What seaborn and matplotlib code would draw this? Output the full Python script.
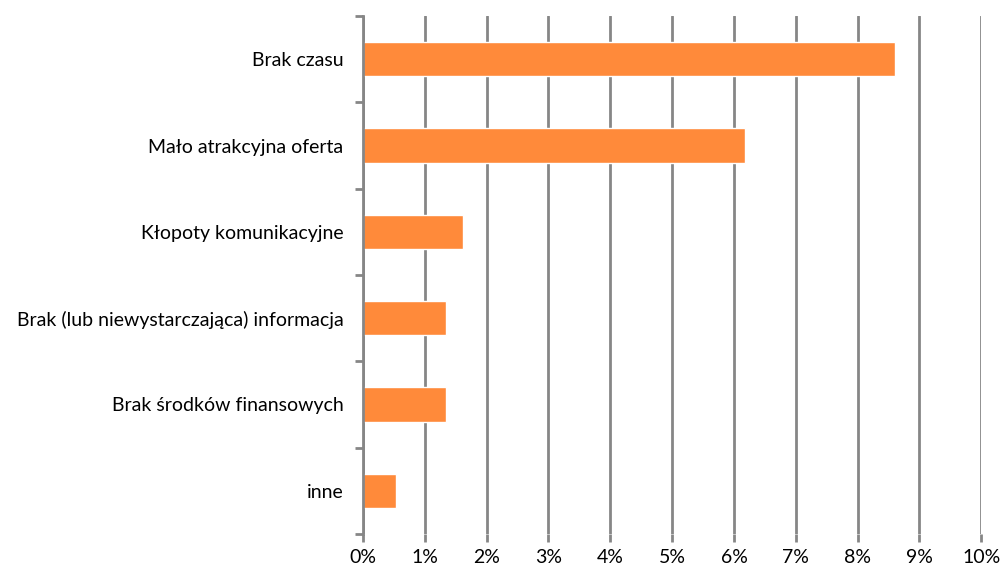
import matplotlib
matplotlib.use("Agg")
import matplotlib.pyplot as plt
import seaborn as sns
import pandas as pd
import numpy as np
from matplotlib.ticker import FixedLocator, PercentFormatter

categories = ["Brak czasu", "Mało atrakcyjna oferta", "Kłopoty komunikacyjne",
              "Brak (lub niewystarczająca) informacja", "Brak środków finansowych", "inne"]
values = [8.6, 6.18, 1.61, 1.34, 1.34, 0.54]
x_ticks = [0, 1, 2, 3, 4, 5, 6, 7, 8, 9, 10]

sns.set_theme(style="white")
plt.rcParams['font.family'] = ['Lato', 'DejaVu Sans']

df = pd.DataFrame({"cat": categories, "val": values})

fig = plt.figure(figsize=(10.05, 5.69), dpi=100)
ax = fig.add_axes([363/1005, 1-534/569, (981.3-363)/1005, (534-16)/569])

grid_col = "#868686"
ax.set_axisbelow(True)
ax.grid(axis="x", color=grid_col, linewidth=2)
ax.grid(axis="y", visible=False)

sns.barplot(data=df, x="val", y="cat", orient="h", color="#FF8A3A", saturation=1,
            width=0.4, ax=ax)

ax.set_xlim(0, 10)
ax.set_ylim(len(categories) - 0.5, -0.5)
ax.set_xticks(x_ticks)
ax.xaxis.set_major_formatter(PercentFormatter(decimals=0))
ax.set_xlabel("")
ax.set_ylabel("")

ax.yaxis.set_minor_locator(FixedLocator(np.arange(-0.5, len(categories), 1.0)))
ax.tick_params(axis="y", which="major", length=0, pad=14, labelsize=14, labelcolor="#000000")
ax.tick_params(axis="y", which="minor", left=True, length=6, width=2, color=grid_col)
ax.tick_params(axis="x", which="major", bottom=True, length=6, width=2, color=grid_col,
               pad=5, labelsize=14, labelcolor="#000000")

for s in ["top", "right", "bottom"]:
    ax.spines[s].set_visible(False)
ax.spines["left"].set_color(grid_col)
ax.spines["left"].set_linewidth(2)

fig.savefig("out.png", dpi=100)
